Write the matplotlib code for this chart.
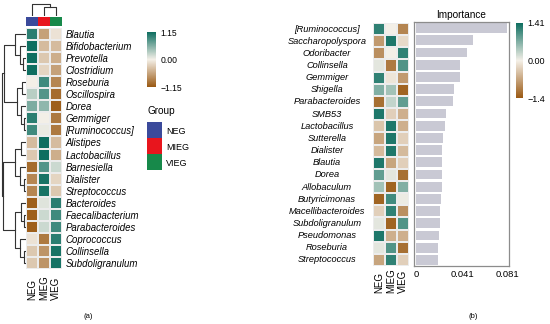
import numpy as np
import matplotlib
matplotlib.use('Agg')
import matplotlib.pyplot as plt
from matplotlib.colors import LinearSegmentedColormap, ListedColormap
from matplotlib.transforms import blended_transform_factory

plt.rcParams['font.family'] = ['Liberation Sans', 'DejaVu Sans']
plt.rcParams['font.size'] = 6.5

# ---------------- data: panel (a) ----------------
groups = ['NEG', 'MIEG', 'VIEG']
group_colors = ['#3b4a9b', '#e8151d', '#17894a']

genera_a = ['Blautia', 'Bifidobacterium', 'Prevotella', 'Clostridium', 'Roseburia',
            'Oscillospira', 'Dorea', 'Gemmiger', '[Ruminococcus]', 'Alistipes',
            'Lactobacillus', 'Barnesiella', 'Dialister', 'Streptococcus', 'Bacteroides',
            'Faecalibacterium', 'Parabacteroides', 'Coprococcus', 'Collinsella',
            'Subdoligranulum']
neg_a = [1.0, 1.15, 1.15, 1.15, 0.0, 0.3, 0.6, 1.0, 0.9, -0.4,
         -0.3, -1.0, -0.8, -0.8, -1.1, -1.1, -1.1, -0.1, -0.3, -0.3]
mieg_a = [-0.6, -0.4, -0.3, -0.2, 0.9, 0.8, 0.5, 0.0, 0.05, 1.15,
          1.15, 0.8, 1.1, 1.1, 0.1, 0.2, 0.2, -0.9, -0.7, -0.7]
vieg_a = [-0.1, -0.4, -0.5, -0.6, -0.8, -1.0, -1.1, -0.9, -0.9, -0.4,
          -0.5, 0.2, -0.2, -0.3, 1.0, 0.9, 0.9, 1.0, 1.1, 1.1]
lim_a = 1.15

# clustering merges (left, right, height); leaves are rows in display order
row_links = [(2, 3, 3), (1, 20, 6), (0, 21, 11), (7, 8, 2), (6, 23, 5),
             (4, 5, 4), (25, 24, 9), (22, 26, 21), (9, 10, 5), (12, 13, 2),
             (11, 29, 6), (28, 30, 11), (15, 16, 2), (14, 32, 5), (18, 19, 2),
             (17, 34, 6), (33, 35, 11), (31, 36, 22), (27, 37, 23)]
col_links = [(1, 2, 8), (0, 3, 11)]

# ---------------- data: panel (b) ----------------
genera_b = ['[Ruminococcus]', 'Saccharopolyspora', 'Odoribacter', 'Collinsella',
            'Gemmiger', 'Shigella', 'Parabacteroides', 'SMB53', 'Lactobacillus',
            'Sutterella', 'Dialister', 'Blautia', 'Dorea', 'Allobaculum',
            'Butyricimonas', 'Macellibacteroides', 'Subdoligranulum', 'Pseudomonas',
            'Roseburia', 'Streptococcus']
importance = [0.0805, 0.0503, 0.0455, 0.039, 0.039, 0.0336, 0.033, 0.0262, 0.026,
              0.0236, 0.0232, 0.0232, 0.023, 0.0227, 0.022, 0.0212, 0.0209, 0.020,
              0.0197, 0.0194]
neg_b = [1.2, -0.8, -0.9, 0.1, 1.2, 0.7, -1.2, 1.3, -0.4, -0.7,
         -0.5, 1.3, 0.9, 0.5, -1.3, -0.3, 0.1, 1.3, 0.1, -0.7]
mieg_b = [0.0, 1.3, 0.0, -1.1, -0.1, 0.5, 0.3, -0.3, 1.3, 1.3,
          1.3, -0.7, 0.1, -1.3, 1.1, 1.2, -1.3, -0.6, 1.0, 1.2]
vieg_b = [-1.0, -0.2, 1.2, 1.0, -0.8, -1.3, 0.9, -0.6, -0.6, -0.3,
          -0.5, -0.3, -1.2, 0.7, 0.05, -0.9, 1.0, -0.6, -1.2, -0.3]
lim_b = 1.41
imp_ticks = [0, 0.041, 0.081]

cmap = LinearSegmentedColormap.from_list('brtl', ['#9a5913', '#f4f0e8', '#0e6e60'])

W, H = 550, 324
fig = plt.figure(figsize=(W / 100, H / 100), dpi=100)


def px(x0, y0, x1, y1):
    return [x0 / W, 1 - y1 / H, (x1 - x0) / W, (y1 - y0) / H]


def dendro(ax, links, n, vertical=False):
    pos = {i: float(i) for i in range(n)}
    hgt = {i: 0.0 for i in range(n)}
    for k, (a, b, h) in enumerate(links):
        pa, pb = pos[a], pos[b]
        if vertical:
            ax.plot([pa, pa, pb, pb], [hgt[a], h, h, hgt[b]], color='#333333', lw=0.8)
        else:
            ax.plot([hgt[a], h, h, hgt[b]], [pa, pa, pb, pb], color='#333333', lw=0.8)
        pos[n + k] = (pa + pb) / 2
        hgt[n + k] = h
    ax.axis('off')


# ---------- panel (a) ----------
mat_a = np.array([neg_a, mieg_a, vieg_a]).T
ax_ha = fig.add_axes(px(26, 28, 62, 269))
ax_ha.pcolormesh(mat_a, cmap=cmap, vmin=-lim_a, vmax=lim_a,
                 edgecolors='#ececec', linewidth=0.2)
ax_ha.set_ylim(len(genera_a), 0)
ax_ha.set_xlim(0, 3)
ax_ha.set_xticks([])
ax_ha.yaxis.tick_right()
ax_ha.set_yticks(np.arange(len(genera_a)) + 0.5)
ax_ha.set_yticklabels(genera_a, style='italic', fontsize=6.9)
ax_ha.tick_params(axis='y', length=0, pad=2.5)
for s in ax_ha.spines.values():
    s.set_visible(False)
tr = blended_transform_factory(ax_ha.transData, fig.transFigure)
for j, g in enumerate(groups):
    ax_ha.text(j + 0.5, 1 - 300 / H, g, rotation=90, rotation_mode='anchor',
               ha='left', va='center', fontsize=7, transform=tr)

ax_grp = fig.add_axes(px(26, 17, 62, 26))
ax_grp.imshow([list(range(len(groups)))], cmap=ListedColormap(group_colors),
              aspect='auto', interpolation='nearest')
ax_grp.axis('off')

ax_rd = fig.add_axes(px(1, 28, 26, 269))
dendro(ax_rd, row_links, len(genera_a))
ax_rd.set_xlim(24, 0)
ax_rd.set_ylim(len(genera_a) - 0.5, -0.5)
ax_rd.axis('off')

ax_cd = fig.add_axes(px(26, 3, 62, 16))
dendro(ax_cd, col_links, len(groups), vertical=True)
ax_cd.set_xlim(-0.5, 2.5)
ax_cd.set_ylim(0, 12)
ax_cd.axis('off')

cax_a = fig.add_axes(px(147, 32, 156, 87))
cb_a = fig.colorbar(plt.cm.ScalarMappable(cmap=cmap, norm=plt.Normalize(-lim_a, lim_a)),
                    cax=cax_a)
cb_a.outline.set_visible(False)
cb_a.set_ticks([-lim_a, 0, lim_a])
cb_a.set_ticklabels(['\u22121.15', '0.00', '1.15'])
cb_a.ax.tick_params(length=0, labelsize=6.2, pad=3)

fig.text(148 / W, 1 - 111 / H, 'Group', fontsize=7.2, va='center')
ax_leg = fig.add_axes(px(147, 122, 162, 170))
ax_leg.imshow(np.arange(len(groups))[:, None], cmap=ListedColormap(group_colors),
              aspect='auto', interpolation='nearest')
ax_leg.set_xticks([])
ax_leg.yaxis.tick_right()
ax_leg.set_yticks(range(len(groups)))
ax_leg.set_yticklabels(groups, fontsize=6.5)
ax_leg.tick_params(axis='y', length=0, pad=3)
for s in ax_leg.spines.values():
    s.set_visible(False)

fig.text(88 / W, 1 - 316 / H, '(a)', fontsize=5.5, ha='center', va='center')

# ---------- panel (b) ----------
mat_b = np.array([neg_b, mieg_b, vieg_b]).T
ax_hb = fig.add_axes(px(373, 23, 409, 266))
ax_hb.pcolormesh(mat_b, cmap=cmap, vmin=-lim_b, vmax=lim_b,
                 edgecolors='#ececec', linewidth=0.2)
ax_hb.set_ylim(len(genera_b), 0)
ax_hb.set_xlim(0, 3)
ax_hb.set_xticks([])
ax_hb.set_yticks([])
for s in ax_hb.spines.values():
    s.set_visible(False)
trl = blended_transform_factory(fig.transFigure, ax_hb.transData)
for i, g in enumerate(genera_b):
    ax_hb.text(327 / W, i + 0.5, g, style='italic', fontsize=6.7,
               ha='center', va='center', transform=trl)
trb = blended_transform_factory(ax_hb.transData, fig.transFigure)
for j, g in enumerate(groups):
    ax_hb.text(j + 0.5, 1 - 293 / H, g, rotation=90, rotation_mode='anchor',
               ha='left', va='center', fontsize=7, transform=trb)

ax_bar = fig.add_axes(px(414, 22, 509, 266))
ax_bar.barh(np.arange(len(genera_b)), importance, height=0.8, color='#c9c9d4')
ax_bar.set_ylim(len(genera_b) - 0.5, -0.5)
ax_bar.set_xlim(-0.002, 0.0825)
ax_bar.set_yticks([])
ax_bar.set_xticks(imp_ticks)
ax_bar.set_xticklabels(['0', '0.041', '0.081'])
ax_bar.tick_params(axis='x', length=0, pad=3, labelsize=6.8)
for s in ax_bar.spines.values():
    s.set_color('#8c8c8c')
    s.set_linewidth(0.9)
ax_bar.set_title('Importance', fontsize=7.2, pad=3)

cax_b = fig.add_axes(px(516, 23, 523, 98))
cb_b = fig.colorbar(plt.cm.ScalarMappable(cmap=cmap, norm=plt.Normalize(-lim_b, lim_b)),
                    cax=cax_b)
cb_b.outline.set_visible(False)
cb_b.set_ticks([-lim_b, 0, lim_b])
cb_b.set_ticklabels(['\u22121.4', '0.00', '1.41'])
cb_b.ax.tick_params(length=0, labelsize=6.5, pad=3)

fig.text(473 / W, 1 - 316 / H, '(b)', fontsize=5.5, ha='center', va='center')

fig.savefig('out.png', dpi=100)
